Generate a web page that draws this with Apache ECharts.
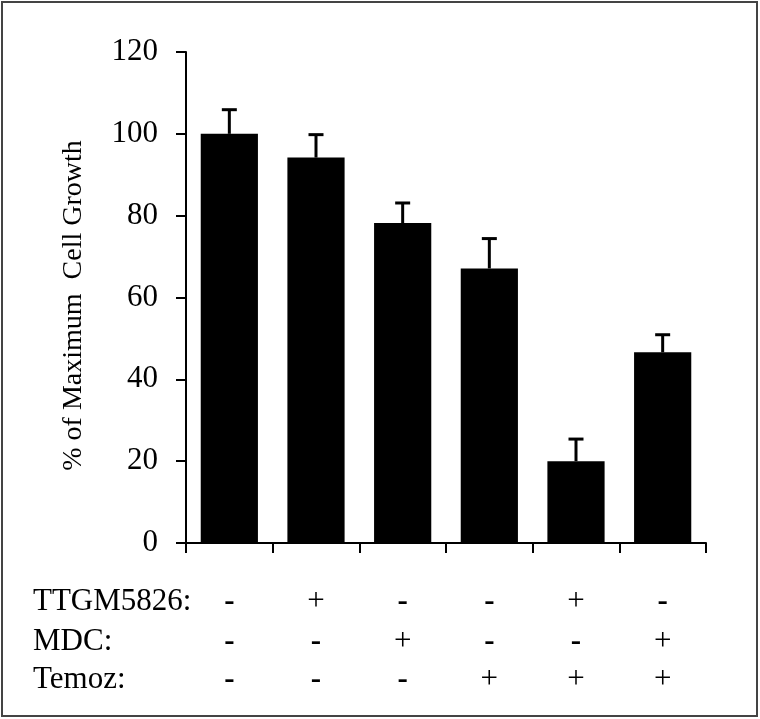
<!DOCTYPE html>
<html>
<head>
<meta charset="utf-8">
<script src="https://cdn.jsdelivr.net/npm/echarts@6/dist/echarts.min.js"></script>
<style>
  html, body { margin: 0; padding: 0; background: #fff; }
  #chart { width: 760px; height: 719px; }
</style>
</head>
<body>
<div id="chart"></div>
<script>
// conditions, one column per bar
const groups = ['g1', 'g2', 'g3', 'g4', 'g5', 'g6']
const rowNames = ['TTGM5826:', 'MDC:', 'Temoz:']
const ttgm = ['-', '+', '-', '-', '+', '-']
const mdc = ['-', '-', '+', '-', '-', '+']
const temoz = ['-', '-', '-', '+', '+', '+']
// % of maximum cell growth and its error (upper bar only)
const growth = [100, 94.2, 78.2, 67.1, 20, 46.6]
const errors = [5.9, 5.6, 4.9, 7.3, 5.4, 4.3]
const yMin = 0
const yMax = 120
const yStep = 20

const font = 'Liberation Serif'
const chart = echarts.init(document.getElementById('chart'))

function signAxis(signs, margin) {
  return {
    type: 'category',
    gridIndex: 0,
    position: 'bottom',
    data: groups,
    axisLine: { show: false },
    axisTick: { show: false },
    axisLabel: {
      margin: margin,
      interval: 0,
      fontFamily: font,
      fontSize: 31,
      color: '#000',
      formatter: (v, i) => signs[i] === '-' ? '{m|-}' : '{p|+}',
      rich: {
        m: { fontFamily: font, fontSize: 31, fontWeight: 'bold', color: '#000' },
        p: { fontFamily: font, fontSize: 31, color: '#000' }
      }
    }
  }
}

let option = {
  backgroundColor: '#fff',
  animation: false,
  grid: { left: 186, right: 54, top: 52, bottom: 176 },
  xAxis: [{
    type: 'category',
    data: groups,
    axisLine: { lineStyle: { color: '#000', width: 2 } },
    axisTick: { show: true, length: 10, lineStyle: { color: '#000', width: 2 } },
    axisLabel: { show: false }
  },
    signAxis(ttgm, 43),
    signAxis(mdc, 83),
    signAxis(temoz, 121)
  ],
  yAxis: {
    type: 'value',
    min: yMin,
    max: yMax,
    interval: yStep,
    name: '% of Maximum  Cell Growth',
    nameLocation: 'middle',
    nameRotate: 90,
    nameGap: 98,
    nameTextStyle: { fontFamily: font, fontSize: 28, color: '#000', padding: [0, 16, 0, 0] },
    axisLine: { show: true, lineStyle: { color: '#000', width: 2 } },
    axisTick: { show: true, length: 10, lineStyle: { color: '#000', width: 2 } },
    axisLabel: { fontFamily: font, fontSize: 31, color: '#000', margin: 28 },
    splitLine: { show: false }
  },
  graphic: [
    {
      type: 'rect',
      shape: { x: 2, y: 2, width: 755, height: 714 },
      style: { fill: null, stroke: '#444', lineWidth: 2 }
    },
    ...rowNames.map((name, i) => ({
      type: 'text',
      left: 33,
      top: [586, 626, 664][i],
      style: { text: name, fontFamily: font, fontSize: 31, fill: '#000' }
    }))
  ],
  series: [{
    name: 'growth',
    type: 'bar',
    barWidth: '66%',
    itemStyle: { color: '#000' },
    data: growth,
    z: 2
  }, {
    name: 'error',
    type: 'custom',
    z: 3,
    data: growth.map((v, i) => [i, v, v + errors[i]]),
    renderItem(params, api) {
      const base = api.coord([api.value(0), api.value(1)])
      const top = api.coord([api.value(0), api.value(2)])
      const half = 7.5
      const style = { stroke: '#000', lineWidth: 3 }
      return {
        type: 'group',
        children: [
          { type: 'line', shape: { x1: base[0], y1: base[1], x2: top[0], y2: top[1] }, style: style },
          { type: 'line', shape: { x1: top[0] - half, y1: top[1], x2: top[0] + half, y2: top[1] }, style: style }
        ]
      }
    }
  }]
}
chart.setOption(option)
</script>
</body>
</html>
